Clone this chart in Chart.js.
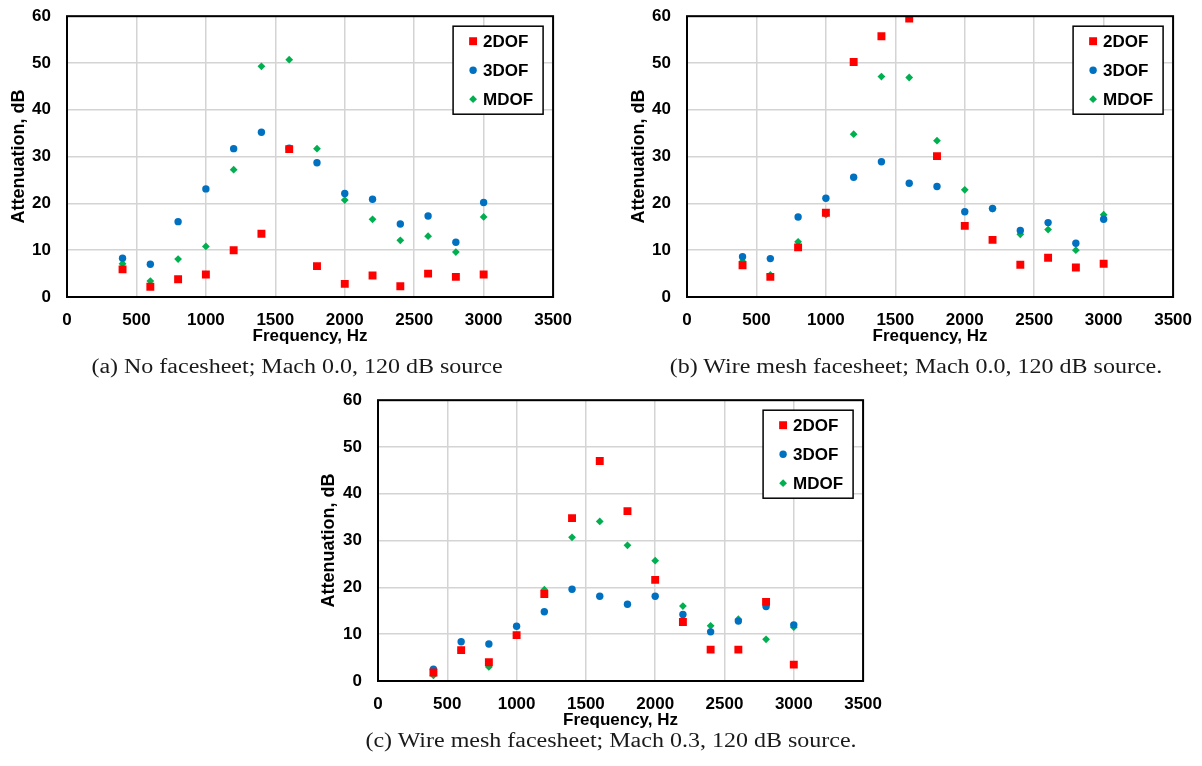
<!DOCTYPE html>
<html>
<head>
<meta charset="utf-8">
<script src="https://cdn.jsdelivr.net/npm/chart.js@4/dist/chart.umd.min.js"></script>
<style>
  html, body { margin: 0; padding: 0; background: #fff; }
  body { width: 1202px; height: 766px; position: relative; overflow: hidden; }
  canvas { position: absolute; }
  .caption {
    position: absolute; white-space: nowrap; transform: translateX(-50%) scaleX(1.2);
    font-family: "Liberation Serif", "Times New Roman", serif; font-size: 20px; color: #1a1a1a;
  }
</style>
</head>
<body>
<canvas id="chartA" width="585" height="359" style="left:0;top:-10px"></canvas>
<canvas id="chartB" width="585" height="359" style="left:620px;top:-10px"></canvas>
<canvas id="chartC" width="585" height="359" style="left:310px;top:374px"></canvas>
<div class="caption" style="left:297px;top:355px">(a) No facesheet; Mach 0.0, 120 dB source</div>
<div class="caption" style="left:916px;top:355px">(b) Wire mesh facesheet; Mach 0.0, 120 dB source.</div>
<div class="caption" style="left:611px;top:729px">(c) Wire mesh facesheet; Mach 0.3, 120 dB source.</div>
<script>
const freqs = [400, 600, 800, 1000, 1200, 1400, 1600, 1800, 2000, 2200, 2400, 2600, 2800, 3000];
const seriesNames = ["2DOF", "3DOF", "MDOF"];

// (a) no facesheet, Mach 0.0
const a2dof = [5.9, 2.2, 3.8, 4.8, 10.0, 13.5, 31.6, 6.6, 2.8, 4.6, 2.3, 5.0, 4.3, 4.8];
const a3dof = [8.3, 7.0, 16.1, 23.1, 31.7, 35.2, 31.8, 28.7, 22.1, 20.9, 15.6, 17.3, 11.7, 20.2];
const aMdof = [7.1, 3.4, 8.1, 10.8, 27.2, 49.3, 50.7, 31.7, 20.7, 16.6, 12.1, 13.0, 9.6, 17.1];

// (b) wire mesh, Mach 0.0
const b2dof = [6.8, 4.3, 10.6, 18.0, 50.2, 55.7, 59.5, 30.1, 15.2, 12.2, 6.9, 8.4, 6.3, 7.1];
const b3dof = [8.6, 8.2, 17.1, 21.1, 25.6, 28.9, 24.3, 23.6, 18.2, 18.9, 14.2, 15.9, 11.5, 16.6];
const bMdof = [7.6, 4.7, 11.8, 17.6, 34.8, 47.1, 46.9, 33.4, 22.9, 18.9, 13.4, 14.4, 10.0, 17.6];

// (c) wire mesh, Mach 0.3
const c2dof = [1.8, 6.6, 4.0, 9.8, 18.6, 34.8, 47.0, 36.3, 21.6, 12.6, 6.7, 6.7, 16.9, 3.5];
const c3dof = [2.5, 8.4, 7.9, 11.7, 14.8, 19.6, 18.1, 16.4, 18.1, 14.2, 10.5, 12.8, 15.9, 12.0];
const cMdof = [1.2, 6.6, 3.0, 9.8, 19.5, 30.7, 34.1, 29.0, 25.7, 16.0, 11.8, 13.2, 8.9, 11.5];

const colors = ["#ff0000", "#0070c0", "#00b050"];
const styles = ["rect", "circle", "rectRot"];
const radii = [5.6, 3.7, 3.9];

const FONT = "'Liberation Sans', Arial, sans-serif";

// frame around the plot area + boxed legend in the upper right corner
const framePlugin = {
  id: "frame",
  afterDatasetsDraw(chart) {
    const { ctx, chartArea: ca } = chart;
    ctx.save();
    ctx.strokeStyle = "#000";
    ctx.lineWidth = 2;
    ctx.strokeRect(ca.left, ca.top, ca.right - ca.left, ca.bottom - ca.top);

    const w = 90, h = 88;
    const x0 = ca.right - 10 - w, y0 = ca.top + 10;
    ctx.fillStyle = "#fff";
    ctx.fillRect(x0, y0, w, h);
    ctx.lineWidth = 1.5;
    ctx.strokeRect(x0, y0, w, h);
    ctx.font = "bold 17px " + FONT;
    ctx.textBaseline = "middle";
    chart.data.datasets.forEach((ds, i) => {
      const y = y0 + 15 + i * 29;
      ctx.fillStyle = ds.backgroundColor;
      ctx.strokeStyle = ds.backgroundColor;
      Chart.helpers.drawPoint(ctx, { pointStyle: ds.pointStyle, radius: ds.pointRadius, rotation: 0, borderWidth: 0 }, x0 + 20, y);
      ctx.fillStyle = "#000";
      ctx.fillText(ds.label, x0 + 30, y + 1);
    });
    ctx.restore();
  }
};

function drawPanel(id, series, yAxisWidth) {
  const datasets = series.map((vals, i) => ({
    label: seriesNames[i],
    data: vals.map((v, k) => ({ x: freqs[k], y: v })),
    backgroundColor: colors[i],
    borderColor: colors[i],
    borderWidth: 0,
    pointStyle: styles[i],
    pointRadius: radii[i],
    pointHoverRadius: radii[i]
  }));

  return new Chart(document.getElementById(id), {
    type: "scatter",
    data: { datasets },
    options: {
      responsive: false,
      animation: false,
      layout: { padding: 0 },
      plugins: { legend: { display: false }, tooltip: { enabled: false } },
      scales: {
        x: {
          type: "linear", min: 0, max: 3500,
          ticks: { stepSize: 500, padding: 13, color: "#000", callback: v => String(v),
                   font: { family: FONT, size: 17, weight: "bold" } },
          grid: { color: "#d4d4d4", lineWidth: 1.5, drawTicks: false },
          border: { display: false },
          title: { display: true, text: "Frequency, Hz", color: "#000", padding: { top: 0, bottom: 2 },
                   font: { family: FONT, size: 17, weight: "bold" } },
          afterFit: s => { s.height = 52; }
        },
        y: {
          min: 0, max: 60,
          ticks: { stepSize: 10, padding: 16, color: "#000", callback: v => String(v),
                   font: { family: FONT, size: 17, weight: "bold" } },
          grid: { color: "#d4d4d4", lineWidth: 1.5, drawTicks: false },
          border: { display: false },
          title: { display: true, text: "Attenuation, dB", color: "#000", padding: { top: 8, bottom: 0 },
                   font: { family: FONT, size: 18, weight: "bold" } },
          afterFit: s => { s.width = yAxisWidth; }
        }
      }
    },
    plugins: [framePlugin]
  });
}

drawPanel("chartA", [a2dof, a3dof, aMdof], 67);
drawPanel("chartB", [b2dof, b3dof, bMdof], 67);
drawPanel("chartC", [c2dof, c3dof, cMdof], 68);
</script>
</body>
</html>
